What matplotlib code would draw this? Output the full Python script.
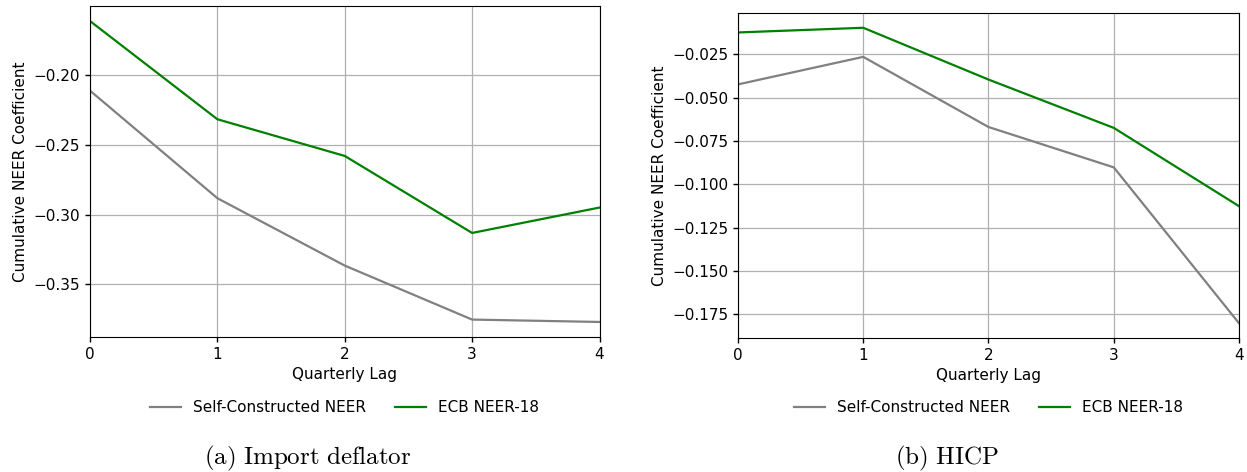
import matplotlib
matplotlib.use("Agg")
import matplotlib.pyplot as plt

lags = [0, 1, 2, 3, 4]
series_labels = ["Self-Constructed NEER", "ECB NEER-18"]
series_colors = ["gray", "green"]

import_self = [-0.2112, -0.2883, -0.3366, -0.3753, -0.3770]
import_ecb = [-0.1613, -0.2317, -0.2580, -0.3132, -0.2950]

hicp_self = [-0.0423, -0.0264, -0.0669, -0.0902, -0.1802]
hicp_ecb = [-0.0123, -0.0096, -0.0395, -0.0674, -0.1126]

captions = ["(a) Import deflator", "(b) HICP"]

plt.rcParams["mathtext.fontset"] = "cm"

W, H = 1247, 472
fig = plt.figure(figsize=(W / 100, H / 100), dpi=100)


def px_axes(x0, y0, x1, y1):
    return fig.add_axes([x0 / W, 1 - y1 / H, (x1 - x0) / W, (y1 - y0) / H])


panels = [
    (px_axes(90, 6, 599.5, 337), import_self, import_ecb, captions[0], 308),
    (px_axes(738, 13, 1239, 338), hicp_self, hicp_ecb, captions[1], 947),
]

FS = 11
for ax, s_self, s_ecb, cap, cx in panels:
    ax.plot(lags, s_self, color=series_colors[0], lw=1.6, label=series_labels[0])
    ax.plot(lags, s_ecb, color=series_colors[1], lw=1.6, label=series_labels[1])
    ax.set_xlim(lags[0], lags[-1])
    ax.set_xticks(lags)
    ax.grid(True, color="#b0b0b0", lw=0.9)
    ax.tick_params(labelsize=FS, width=1.0)
    ax.set_xlabel("Quarterly Lag", fontsize=FS, labelpad=4)
    ax.set_ylabel("Cumulative NEER Coefficient", fontsize=FS)
    ax.legend(loc="upper center", bbox_to_anchor=(0.5, -0.15), ncol=2,
              frameon=False, fontsize=FS, columnspacing=1.9, handlelength=2.0,
              handletextpad=0.8)
    words = cap.split(" ")
    fig.text(cx / W, 1 - 458 / H, r"$\mathrm{" + r"\ ".join(words) + "}$",
             ha="center", va="center", fontsize=18)

fig.savefig("out.png", dpi=100)
